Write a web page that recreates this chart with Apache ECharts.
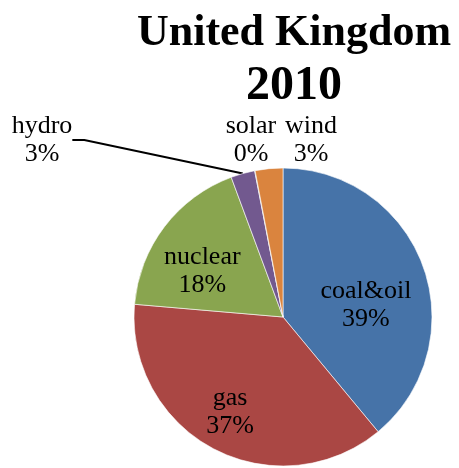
<!DOCTYPE html>
<html>
<head>
<meta charset="utf-8">
<script src="https://cdn.jsdelivr.net/npm/echarts@6/dist/echarts.min.js"></script>
<style>
  html, body { margin: 0; padding: 0; background: #fff; }
  #chart { width: 459px; height: 468px; }
</style>
</head>
<body>
<div id="chart"></div>
<script>
// UK electricity mix, 2010 (shares in %)
const sources = ["coal&oil", "gas", "nuclear", "hydro", "solar", "wind"];
const shares = [39.0, 37.4, 18.0, 2.6, 0.05, 3.0];
const colors = ["#4673A8", "#AA4744", "#89A54F", "#72598F", "#4298AF", "#DA843E"];

// label placement tweaks (inside slices shifted, small slices placed above pie)
const insideShift = { 0: [10, 14], 1: [-17, 27], 2: [-19, 1] };
const outsidePos = { 3: [42, 140], 4: [251, 140], 5: [311, 140] };

const chart = echarts.init(document.getElementById("chart"));

chart.setOption({
  animation: false,
  title: {
    text: "{a|United Kingdom}\n{b|2010}",
    left: 289,
    top: 2,
    textAlign: "center",
    textStyle: {
      rich: {
        a: { fontFamily: "Liberation Serif", fontWeight: "bold", fontSize: 44, lineHeight: 53, color: "#000" },
        b: { fontFamily: "Liberation Serif", fontWeight: "bold", fontSize: 48, lineHeight: 53, color: "#000" }
      }
    }
  },
  series: [
    {
      type: "pie",
      center: [283, 317],
      radius: 149,
      startAngle: 90,
      clockwise: true,
      avoidLabelOverlap: false,
      itemStyle: {
        borderColor: "#fff",
        borderWidth: 0.6
      },
      label: {
        show: true,
        position: "inside",
        fontFamily: "Liberation Serif",
        fontSize: 26,
        lineHeight: 28,
        color: "#000",
        formatter: function (p) {
          return p.name + "\n" + Math.round(p.value) + "%";
        }
      },
      labelLine: { show: false },
      labelLayout: function (params) {
        const i = params.dataIndex;
        if (outsidePos[i]) {
          return {
            x: outsidePos[i][0],
            y: outsidePos[i][1],
            align: "center",
            verticalAlign: "middle"
          };
        }
        const s = insideShift[i] || [0, 0];
        return { dx: s[0], dy: s[1] };
      },
      data: sources.map(function (name, i) {
        const item = { name: name, value: shares[i], itemStyle: { color: colors[i] } };
        if (i === 3) {
          item.label = { position: "outside" };
          item.labelLine = { show: true, length: 10, length2: 12, lineStyle: { color: "#000", width: 2 } };
        } else if (i > 3) {
          item.label = { position: "outside" };
        }
        return item;
      })
    }
  ]
});
</script>
</body>
</html>
